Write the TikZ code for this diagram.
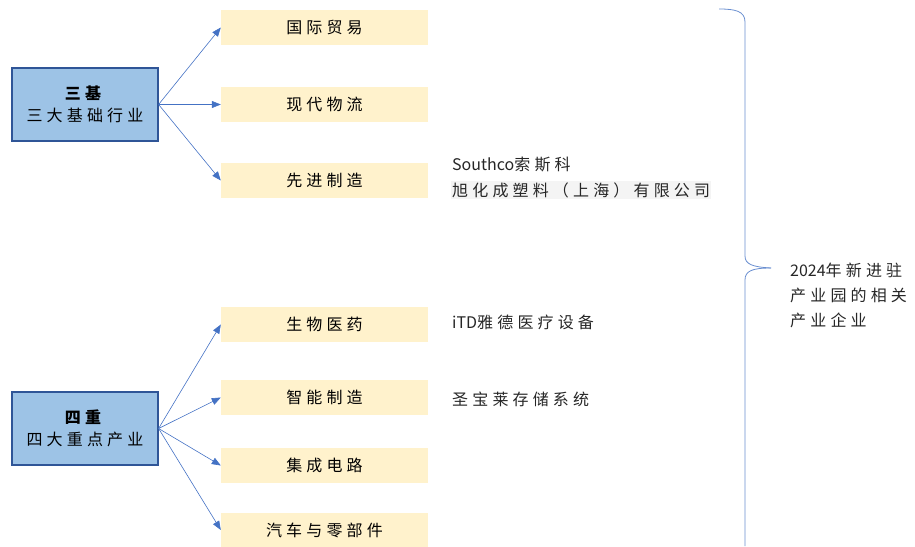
\documentclass[tikz,border=0pt]{standalone}
\usepackage{fontspec}
\setmainfont{Noto Sans CJK SC}[LetterSpace=26]
\newfontfamily\lat{Noto Sans CJK SC}
\usetikzlibrary{arrows.meta}
\definecolor{bluefill}{HTML}{9DC3E6}
\definecolor{blueedge}{HTML}{2F5597}
\definecolor{yelfill}{HTML}{FFF2CC}
\definecolor{arrowc}{HTML}{4472C4}
\definecolor{greybg}{HTML}{F4F4F4}
\begin{document}
\begin{tikzpicture}[x=1pt,y=-1pt,
  mainbox/.style={draw=blueedge, line width=1.2pt, fill=bluefill, minimum width=146pt, minimum height=73pt, align=center, font=\fontsize{16}{22}\selectfont, inner sep=0pt},
  catbox/.style={fill=yelfill, minimum width=207pt, minimum height=35pt, font=\fontsize{16}{18}\selectfont, inner sep=0pt},
  conn/.style={draw=arrowc, line width=0.6pt, -{Triangle[length=9pt,width=7pt]}},
  comp/.style={anchor=west, font=\fontsize{16}{18}\selectfont, inner sep=1pt, text=black!85},
  brace/.style={draw=arrowc!80, line width=0.8pt}
]
\useasboundingbox (0,0) rectangle (915,546);
% main boxes
\node[mainbox] (sanji) at (85,104.5) {\textbf{三基}\\三大基础行业};
\node[mainbox] (sizhong) at (85,428.5) {\textbf{四重}\\四大重点产业};
% category boxes
\node[catbox] (gjmy) at (324.5,27.5) {国际贸易};
\node[catbox] (xdwl) at (324.5,104.5) {现代物流};
\node[catbox] (xjzz) at (324.5,180.5) {先进制造};
\node[catbox] (swyy) at (324.5,324.5) {生物医药};
\node[catbox] (znzz) at (324.5,397.5) {智能制造};
\node[catbox] (jcdl) at (324.5,465.5) {集成电路};
\node[catbox, minimum height=34pt] (qclbj) at (324.5,530) {汽车与零部件};
% connectors
\foreach \t in {gjmy,xdwl,xjzz} \draw[conn] (sanji.east) -- (\t.west);
\foreach \t in {swyy,znzz,jcdl,qclbj} \draw[conn] (sizhong.east) -- (\t.west);
% companies
\node[comp] (c1) at (451,165) {{\lat Southco}索斯科};
\node[comp, fill=greybg] (c2) at (451,190) {旭化成塑料（上海）有限公司};
\node[comp] (c3) at (451,322) {{\lat iTD}雅德医疗设备};
\node[comp] (c4) at (451,399) {圣宝莱存储系统};
% brace
\coordinate (bt) at (719,9);
\coordinate (bm) at (771,268);
\coordinate (bb) at (745,546);
\draw[brace] (bt) .. controls (735,9) and (745,11) .. (745,22) -- (745,256) .. controls (745,264) and (752,267) .. (bm);
\draw[brace] (bm) .. controls (752,268) and (745,271) .. (745,280) -- (bb);
% right label
\node[anchor=west, align=left, font=\fontsize{16}{25}\selectfont, inner sep=1pt, text=black!85] (lbl) at (789,295) {{\lat 2024}年新进驻\\产业园的相关\\产业企业};
\end{tikzpicture}
\end{document}
